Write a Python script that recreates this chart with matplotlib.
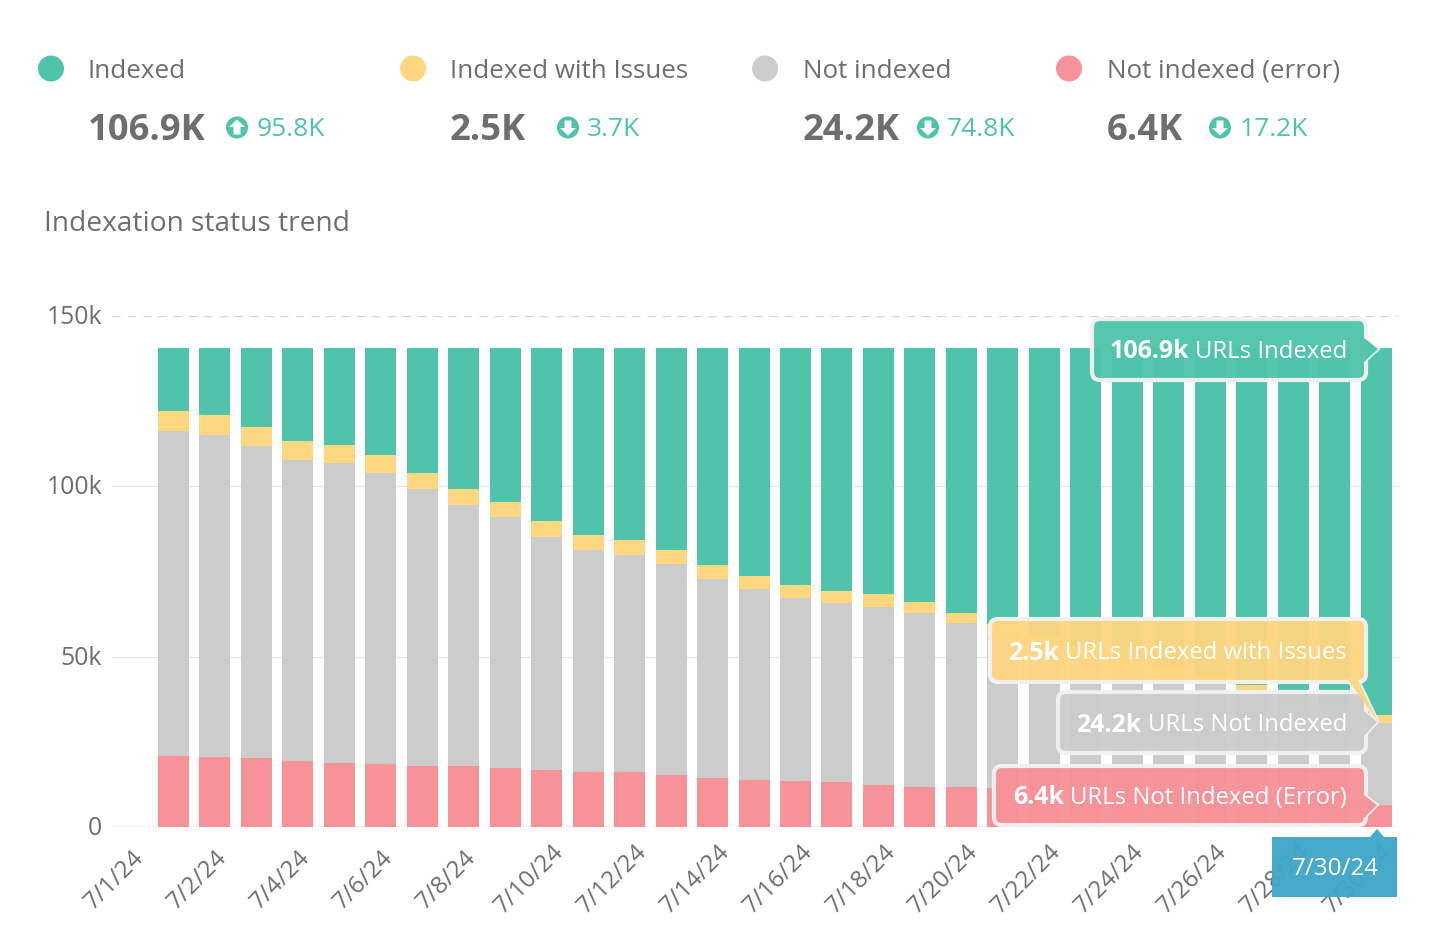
import matplotlib
matplotlib.use("Agg")
import matplotlib.pyplot as plt
from matplotlib.patches import Circle, FancyBboxPatch, Polygon
from matplotlib.transforms import Affine2D

plt.rcParams['font.family'] = ['Open Sans', 'DejaVu Sans']

# values in thousands of URLs, one per bar
error = [20.8, 20.5, 20.2, 19.4, 18.8, 18.5, 17.9, 17.9, 17.3, 16.7,
         16.1, 16.1, 15.3, 14.4, 13.8, 13.5, 13.2, 12.3, 11.7, 11.7,
         11.4, 10.4, 9.8, 9.2, 8.7, 8.2, 7.8, 7.3, 6.9, 6.4]
not_indexed = [95.4, 94.6, 91.6, 88.3, 88.0, 85.4, 81.3, 76.6, 73.7, 68.4,
               65.2, 63.7, 61.9, 58.4, 56.1, 53.7, 52.6, 52.3, 51.1, 48.2,
               45.1, 42.8, 40.6, 38.2, 35.9, 33.8, 31.5, 28.7, 26.6, 24.1]
issues = [5.9, 5.8, 5.6, 5.6, 5.3, 5.3, 4.7, 4.7, 4.4, 4.7,
          4.4, 4.4, 4.1, 4.1, 3.8, 3.8, 3.5, 3.8, 3.2, 2.9,
          3.0, 2.8, 2.6, 2.6, 2.4, 2.4, 2.4, 2.3, 2.2, 2.4]
indexed = [18.4, 19.6, 23.1, 27.2, 28.4, 31.3, 36.6, 41.3, 45.1, 50.7,
           54.8, 56.3, 59.2, 63.6, 66.8, 69.5, 71.2, 72.1, 74.5, 77.7,
           81.0, 84.5, 87.5, 90.5, 93.5, 96.1, 98.8, 102.2, 104.8, 107.6]
date_labels = ['7/1/24', '7/2/24', '7/4/24', '7/6/24', '7/8/24', '7/10/24', '7/12/24', '7/14/24',
               '7/16/24', '7/18/24', '7/20/24', '7/22/24', '7/24/24', '7/26/24', '7/28/24', '7/30/24']

GREEN = '#4fc4ab'
YELLOW = '#fdd680'
GRAY = '#cccccc'
RED = '#f69298'
BLUE = '#3fa7c8'
TEXT = '#6d6e71'

W, H = 1440, 942
fig = plt.figure(figsize=(W / 100, H / 100), dpi=100)

# main chart, placed by pixels
left, right, top, bottom = 112, 1398, 316, 827
ax = fig.add_axes([left / W, 1 - bottom / H, (right - left) / W, (bottom - top) / H])
x = list(range(len(indexed)))
base = [0.0] * len(x)
for values, color in [(error, RED), (not_indexed, GRAY), (issues, YELLOW), (indexed, GREEN)]:
    ax.bar(x, values, bottom=base, width=0.747, color=color, linewidth=0, zorder=3)
    base = [b + v for b, v in zip(base, values)]

ax.set_xlim(-1.483, 29.53)
ax.set_ylim(0, 150)
ax.set_yticks([0, 50, 100, 150])
ax.set_yticklabels(['0', '50k', '100k', '150k'], fontsize=17.8, color=TEXT)
ax.set_xticks([2 * k - 1.0 for k in range(len(date_labels))])
ax.set_xticklabels(date_labels, fontsize=17.5, color=TEXT, rotation=45, ha='right', rotation_mode='anchor')
ax.tick_params(axis='y', length=0, pad=7)
ax.tick_params(axis='x', length=0, pad=12)
for s in ax.spines.values():
    s.set_visible(False)
ax.axhline(150, color='#d9d9d9', lw=1, dashes=(6, 5), zorder=1)
ax.axhline(100, color='#e6e6e6', lw=1, zorder=1)
ax.axhline(50, color='#e6e6e6', lw=1, zorder=1)
ax.axhline(0, color='#bdbdbd', lw=1, zorder=1)

# the longer dates sit a bit further up and right
for lab in ax.get_xticklabels():
    if len(lab.get_text()) > 6:
        lab.set_transform(lab.get_transform() + Affine2D().translate(5, 4))
    else:
        lab.set_transform(lab.get_transform() + Affine2D().translate(0, -2))
for lab in ax.get_yticklabels():
    lab.set_transform(lab.get_transform() + Affine2D().translate(0, 1.5))

# overlay in pixel coordinates for header and tooltips
ov = fig.add_axes([0, 0, 1, 1], zorder=5)
ov.set_xlim(0, W)
ov.set_ylim(H, 0)
ov.axis('off')
ov.patch.set_alpha(0)
renderer = fig.canvas.get_renderer()


def arrow_icon(cx, cy, up):
    ov.add_patch(Circle((cx, cy), 11, color=GREEN, lw=0))
    d = -1 if up else 1
    ov.add_patch(Polygon([(cx - 8, cy + d * 0.5), (cx, cy + d * 8), (cx + 8, cy + d * 0.5),
                          (cx + 3.5, cy + d * 0.5), (cx + 3.5, cy - d * 7), (cx - 3.5, cy - d * 7),
                          (cx - 3.5, cy + d * 0.5)], color='white', lw=0))


header = [
    (51, 88, GREEN, 'Indexed', '106.9K', 237, 257, '95.8K', True),
    (413, 450, YELLOW, 'Indexed with Issues', '2.5K', 568, 587, '3.7K', False),
    (765, 803, GRAY, 'Not indexed', '24.2K', 928, 947, '74.8K', False),
    (1069, 1107, RED, 'Not indexed (error)', '6.4K', 1220, 1240, '17.2K', False),
]
for dot_x, text_x, color, name, total, icon_x, delta_x, delta, up in header:
    ov.add_patch(Circle((dot_x, 68.5), 13, color=color, lw=0))
    ov.text(text_x, 78, name, fontsize=18.7, color=TEXT, va='baseline')
    ov.text(text_x, 131, total, fontsize=26.2, color=TEXT, va='center', fontweight='bold')
    arrow_icon(icon_x, 127.5, up)
    ov.text(delta_x, 136.5, delta, fontsize=19, color=GREEN, va='baseline')

ov.text(44, 224, 'Indexation status trend', fontsize=20.25, color=TEXT, va='center')


def tooltip(x0, y0, x1, y1, color, bold, rest, tail):
    ov.add_patch(Polygon(tail, closed=True, fc=color, ec='#f2f2f2', lw=2.5, alpha=0.96, zorder=6))
    ov.add_patch(FancyBboxPatch((x0, y0), x1 - x0, y1 - y0, boxstyle='round,pad=0,rounding_size=8',
                                fc=color, ec='#f2f2f2', lw=3, alpha=0.96, zorder=7))
    ov.add_patch(Polygon(tail, closed=True, fc=color, ec='none', alpha=0.96, zorder=8))
    cy = (y0 + y1) / 2 + 2.5
    t = ov.text(1347, cy, rest, fontsize=17.2, color='white', ha='right', va='center', zorder=9)
    ext = t.get_window_extent(renderer)
    ov.text(ext.x0 - 6, cy, bold, fontsize=18, color='white', ha='right', va='center',
            fontweight='bold', zorder=9)


tooltip(1092, 319, 1366, 380, GREEN, '106.9k', 'URLs Indexed', [(1364, 338), (1378, 349), (1364, 362)])
tooltip(990, 619, 1366, 682, YELLOW, '2.5k', 'URLs Indexed with Issues', [(1348, 680), (1378, 722), (1358, 680)])
tooltip(1058, 692, 1366, 753, GRAY, '24.2k', 'URLs Not Indexed', [(1364, 711), (1377, 722), (1364, 736)])
tooltip(994, 766, 1366, 825, RED, '6.4k', 'URLs Not Indexed (Error)', [(1364, 795), (1377, 805), (1364, 818)])

# date flag under the last bar
ov.add_patch(Polygon([(1272, 837), (1370, 837), (1377, 829), (1384, 837), (1397, 837), (1397, 897), (1272, 897)],
                     closed=True, fc=BLUE, ec='none', alpha=0.96, zorder=7))
ov.text(1335, 869, '7/30/24', fontsize=17.4, color='white', ha='center', va='center', zorder=9)

fig.savefig('out.png', dpi=100)
